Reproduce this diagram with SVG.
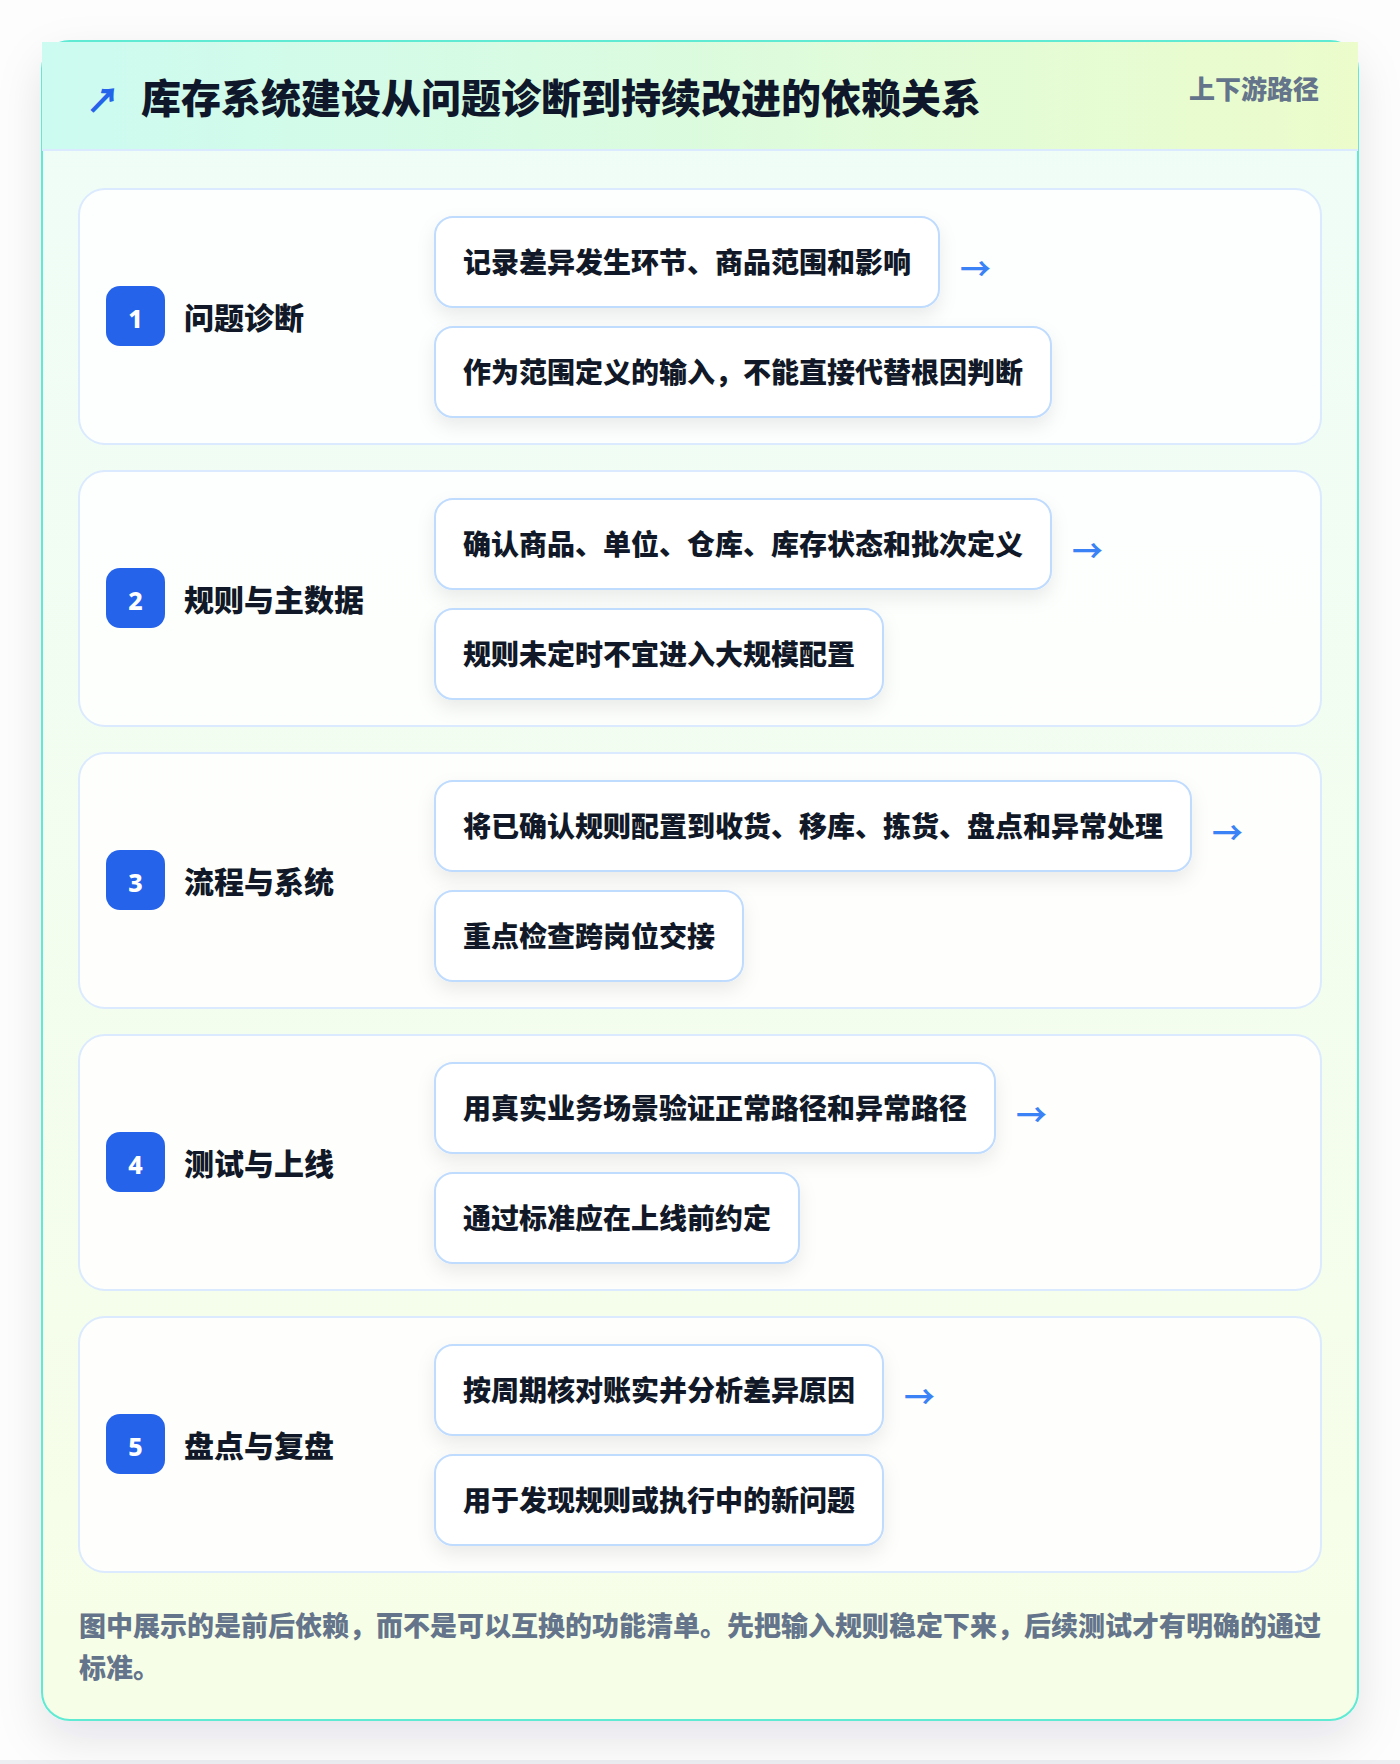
<svg xmlns="http://www.w3.org/2000/svg" width="1400" height="1764" viewBox="0 0 1400 1764">
<defs>
<style>
.t{font-family:"Noto Sans CJK SC","Noto Sans",sans-serif;font-weight:900}
.title{font-size:40px;fill:#0f172a}
.tag{font-size:26px;fill:#64748b}
.row{fill:#ffffff;fill-opacity:0.85;stroke:#dbeafe;stroke-width:2}
.badge{fill:#2563eb}
.num{font-size:25px;fill:#ffffff;font-family:"Noto Sans","DejaVu Sans",sans-serif;font-weight:800}
.lbl{font-size:30px;fill:#111827}
.item{fill:#ffffff;stroke:#bfdbfe;stroke-width:2}
.itxt{font-size:28px;fill:#111827}
.arr{font-size:31px;fill:#3b82f6;font-weight:700}
.foot{font-size:27px;fill:#64748b}
</style>
<linearGradient id="cardBg" x1="0" y1="0" x2="0" y2="1">
<stop offset="0" stop-color="#effdf8"/>
<stop offset="1" stop-color="#f7fee7"/>
</linearGradient>
<linearGradient id="headBg" x1="0" y1="0" x2="1" y2="0">
<stop offset="0" stop-color="#ccfbf1"/>
<stop offset="1" stop-color="#ecfccb"/>
</linearGradient>
<filter id="cardShadow" x="-10%" y="-10%" width="120%" height="120%">
<feDropShadow dx="0" dy="18" stdDeviation="22" flood-color="#0f172a" flood-opacity="0.10"/>
</filter>
<filter id="itemShadow" x="-10%" y="-30%" width="120%" height="180%">
<feDropShadow dx="0" dy="8" stdDeviation="9" flood-color="#0f172a" flood-opacity="0.08"/>
</filter>
</defs>
<rect x="0" y="0" width="1400" height="1764" fill="#fdfdfd"/>
<rect x="0" y="1760" width="1400" height="4" fill="#eceef2"/>
<g id="card">
<rect x="42" y="41" width="1316" height="1679" rx="28" fill="url(#cardBg)" stroke="#5eead4" stroke-width="2" filter="url(#cardShadow)"/>
<rect x="42" y="42" width="1316" height="108" fill="url(#headBg)"/>
<rect x="42" y="149" width="1316" height="2" fill="#dbeafe"/>
<text class="t" x="86" y="113" font-size="34" fill="#2563eb">↗</text>
<text class="t title" x="141" y="113">库存系统建设从问题诊断到持续改进的依赖关系</text>
<text class="t tag" x="1319" y="99" text-anchor="end">上下游路径</text>
</g>
<g id="node-1">
<rect class="row" x="79" y="189" width="1242" height="255" rx="26"/>
<rect class="badge" x="106" y="286" width="59" height="60" rx="14"/>
<text class="num" x="135.5" y="328" text-anchor="middle">1</text>
<text class="t lbl" x="184" y="329">问题诊断</text>
<rect class="item" x="435" y="217" width="504" height="90" rx="18" filter="url(#itemShadow)"/>
<text class="t itxt" x="463" y="272.5">记录差异发生环节、商品范围和影响</text>
<rect class="item" x="435" y="327" width="616" height="90" rx="18" filter="url(#itemShadow)"/>
<text class="t itxt" x="463" y="382.5">作为范围定义的输入，不能直接代替根因判断</text>
</g>
<g id="node-2">
<rect class="row" x="79" y="471" width="1242" height="255" rx="26"/>
<rect class="badge" x="106" y="568" width="59" height="60" rx="14"/>
<text class="num" x="135.5" y="610" text-anchor="middle">2</text>
<text class="t lbl" x="184" y="611">规则与主数据</text>
<rect class="item" x="435" y="499" width="616" height="90" rx="18" filter="url(#itemShadow)"/>
<text class="t itxt" x="463" y="554.5">确认商品、单位、仓库、库存状态和批次定义</text>
<rect class="item" x="435" y="609" width="448" height="90" rx="18" filter="url(#itemShadow)"/>
<text class="t itxt" x="463" y="664.5">规则未定时不宜进入大规模配置</text>
</g>
<g id="node-3">
<rect class="row" x="79" y="753" width="1242" height="255" rx="26"/>
<rect class="badge" x="106" y="850" width="59" height="60" rx="14"/>
<text class="num" x="135.5" y="892" text-anchor="middle">3</text>
<text class="t lbl" x="184" y="893">流程与系统</text>
<rect class="item" x="435" y="781" width="756" height="90" rx="18" filter="url(#itemShadow)"/>
<text class="t itxt" x="463" y="836.5">将已确认规则配置到收货、移库、拣货、盘点和异常处理</text>
<rect class="item" x="435" y="891" width="308" height="90" rx="18" filter="url(#itemShadow)"/>
<text class="t itxt" x="463" y="946.5">重点检查跨岗位交接</text>
</g>
<g id="node-4">
<rect class="row" x="79" y="1035" width="1242" height="255" rx="26"/>
<rect class="badge" x="106" y="1132" width="59" height="60" rx="14"/>
<text class="num" x="135.5" y="1174" text-anchor="middle">4</text>
<text class="t lbl" x="184" y="1175">测试与上线</text>
<rect class="item" x="435" y="1063" width="560" height="90" rx="18" filter="url(#itemShadow)"/>
<text class="t itxt" x="463" y="1118.5">用真实业务场景验证正常路径和异常路径</text>
<rect class="item" x="435" y="1173" width="364" height="90" rx="18" filter="url(#itemShadow)"/>
<text class="t itxt" x="463" y="1228.5">通过标准应在上线前约定</text>
</g>
<g id="node-5">
<rect class="row" x="79" y="1317" width="1242" height="255" rx="26"/>
<rect class="badge" x="106" y="1414" width="59" height="60" rx="14"/>
<text class="num" x="135.5" y="1456" text-anchor="middle">5</text>
<text class="t lbl" x="184" y="1457">盘点与复盘</text>
<rect class="item" x="435" y="1345" width="448" height="90" rx="18" filter="url(#itemShadow)"/>
<text class="t itxt" x="463" y="1400.5">按周期核对账实并分析差异原因</text>
<rect class="item" x="435" y="1455" width="448" height="90" rx="18" filter="url(#itemShadow)"/>
<text class="t itxt" x="463" y="1510.5">用于发现规则或执行中的新问题</text>
</g>
<g id="connectors">
<text class="t arr" x="960" y="280">→</text>
<text class="t arr" x="1072" y="562">→</text>
<text class="t arr" x="1212" y="844">→</text>
<text class="t arr" x="1016" y="1126">→</text>
<text class="t arr" x="904" y="1408">→</text>
</g>
<g id="footer">
<text class="t foot" x="79" y="1636">图中展示的是前后依赖，而不是可以互换的功能清单。先把输入规则稳定下来，后续测试才有明确的通过</text>
<text class="t foot" x="79" y="1678">标准。</text>
</g>
</svg>
